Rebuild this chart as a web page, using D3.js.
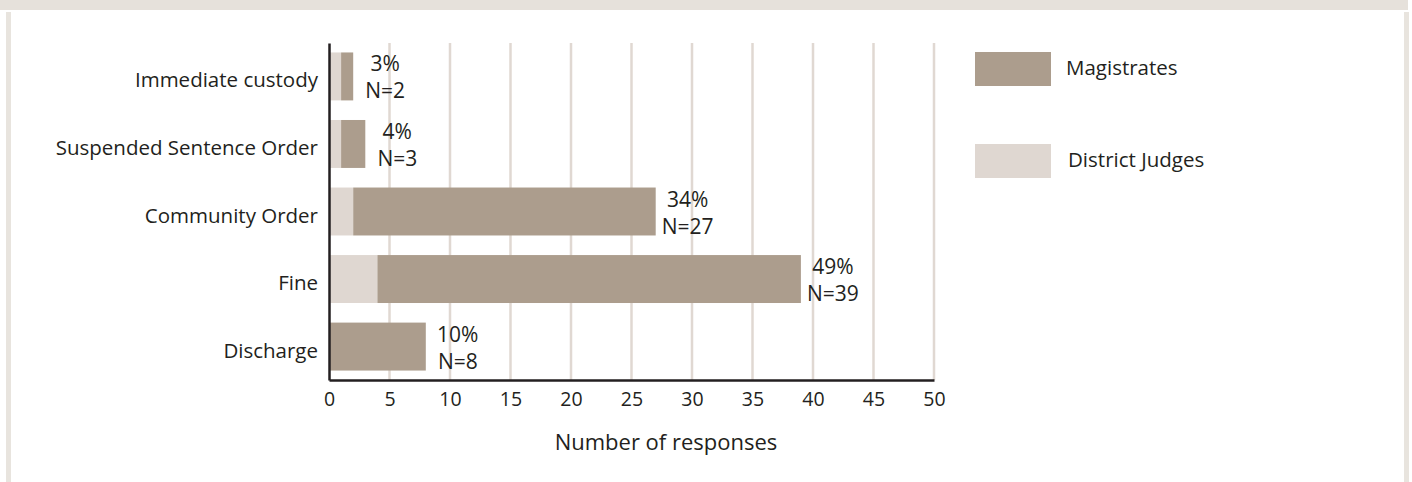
<!DOCTYPE html>
<html>
<head>
<meta charset="utf-8">
<script src="https://cdn.jsdelivr.net/npm/d3@7"></script>
<style>
  body { margin: 0; background: #fff; }
  text { font-family: "Open Sans", sans-serif; fill: #231f20; }
</style>
</head>
<body>
<div id="chart"></div>
<script>
// datos del gráfico
const categorias = ['Immediate custody', 'Suspended Sentence Order', 'Community Order', 'Fine', 'Discharge'];
const districtJudges = [1, 1, 2, 4, 0];
const magistrates = [1, 2, 25, 35, 8];
const porcentajes = ['3%', '4%', '34%', '49%', '10%'];
const totales = [2, 3, 27, 39, 8];
const ticksX = [0, 5, 10, 15, 20, 25, 30, 35, 40, 45, 50];
const series = ['Magistrates', 'District Judges'];

const colores = { 'Magistrates': '#ac9d8d', 'District Judges': '#dfd7d1' };

const width = 1412, height = 482;

const svg = d3.select('#chart')
    .append('svg')
    .attr('width', width)
    .attr('height', height);

// marco
svg.append('rect').attr('x', 0).attr('y', 0).attr('width', 1408).attr('height', 10).attr('fill', '#e6e1db');
svg.append('rect').attr('x', 6).attr('y', 12).attr('width', 5).attr('height', height - 12).attr('fill', '#e8e4de');
svg.append('rect').attr('x', 1404).attr('y', 12).attr('width', 5).attr('height', height - 12).attr('fill', '#e8e4de');

// escalas
const xScale = d3.scaleLinear()
    .domain([0, 50])
    .range([329, 934]);

const yScale = d3.scaleBand()
    .domain(categorias)
    .range([43, 380])
    .paddingInner(0.29)
    .paddingOuter(0.14);

// líneas de la cuadrícula
svg.append('g')
    .selectAll('line')
    .data(ticksX.slice(1))
    .join('line')
    .attr('x1', d => xScale(d))
    .attr('x2', d => xScale(d))
    .attr('y1', 43)
    .attr('y2', 380)
    .attr('stroke', '#e0d8d2')
    .attr('stroke-width', 2.5);

// barras apiladas
const filas = categorias.map((c, i) => ({ cat: c, dj: districtJudges[i], mag: magistrates[i] }));

svg.append('g')
    .selectAll('rect')
    .data(filas)
    .join('rect')
    .attr('x', d => xScale(0))
    .attr('y', d => yScale(d.cat))
    .attr('width', d => xScale(d.dj) - xScale(0))
    .attr('height', yScale.bandwidth())
    .attr('fill', colores['District Judges']);

svg.append('g')
    .selectAll('rect')
    .data(filas)
    .join('rect')
    .attr('x', d => xScale(d.dj))
    .attr('y', d => yScale(d.cat))
    .attr('width', d => xScale(d.dj + d.mag) - xScale(d.dj))
    .attr('height', yScale.bandwidth())
    .attr('fill', colores['Magistrates']);

// etiquetas de valores
const etiquetas = svg.append('g')
    .selectAll('text')
    .data(filas.map((d, i) => ({ ...d, pct: porcentajes[i], n: totales[i] })))
    .join('text')
    .attr('text-anchor', 'middle')
    .style('font-size', '21px');

etiquetas.append('tspan')
    .attr('x', d => xScale(d.n) + 32)
    .attr('y', d => yScale(d.cat) + 19)
    .text(d => d.pct);

etiquetas.append('tspan')
    .attr('x', d => xScale(d.n) + 32)
    .attr('y', d => yScale(d.cat) + 46)
    .text(d => 'N=' + d.n);

// eje Y
const ejeY = svg.append('g')
    .attr('transform', `translate(${xScale(0)},0)`)
    .call(d3.axisLeft(yScale).tickSize(0).tickPadding(11));
ejeY.select('.domain').attr('stroke', '#231f20').attr('stroke-width', 2.5);
ejeY.selectAll('text')
    .attr('dy', 11)
    .style('font-size', '20.5px')
    .style('font-family', '"Open Sans", sans-serif');

// eje X
const ejeX = svg.append('g')
    .attr('transform', 'translate(0,380)')
    .call(d3.axisBottom(xScale).tickValues(ticksX).tickSize(0).tickPadding(12));
ejeX.select('.domain').attr('stroke', '#231f20').attr('stroke-width', 2.5);
ejeX.selectAll('text')
    .attr('dy', '0.71em')
    .style('font-size', '19.5px')
    .style('font-family', '"Open Sans", sans-serif');

svg.append('text')
    .attr('x', 666)
    .attr('y', 450)
    .attr('text-anchor', 'middle')
    .style('font-size', '22px')
    .text('Number of responses');

// leyenda
const leyenda = svg.append('g')
    .selectAll('g')
    .data(series)
    .join('g')
    .attr('transform', (d, i) => `translate(975, ${52 + i * 92})`);

leyenda.append('rect')
    .attr('width', 76)
    .attr('height', 34)
    .attr('fill', d => colores[d]);

leyenda.append('text')
    .attr('x', (d, i) => 91 + i * 2)
    .attr('y', 23)
    .style('font-size', '20.5px')
    .text(d => d);
</script>
</body>
</html>
